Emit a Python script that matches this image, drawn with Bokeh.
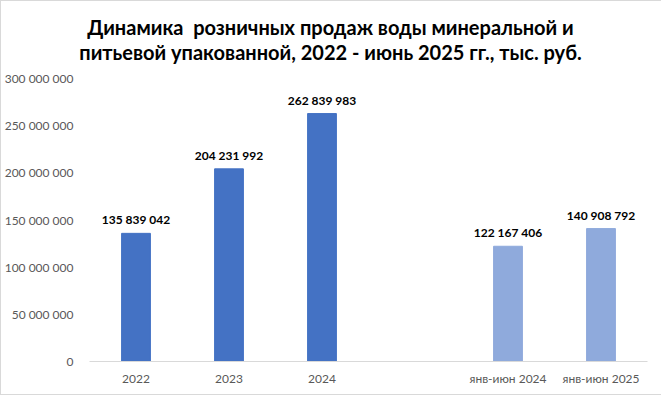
from bokeh.plotting import figure
from bokeh.models import ColumnDataSource, FactorRange, Range1d, CustomJSTickFormatter, Div
from bokeh.layouts import column
from bokeh.core.properties import value
from bokeh.embed import file_html
from bokeh.resources import INLINE

categories = ["2022", "2023", "2024", " ", "янв-июн 2024", "янв-июн 2025"]
values = [135839042, 204231992, 262839983, 0, 122167406, 140908792]
value_labels = ["135 839 042", "204 231 992", "262 839 983", "", "122 167 406", "140 908 792"]
bar_colors = ["#4472C4", "#4472C4", "#4472C4", "#FFFFFF", "#8FAADC", "#8FAADC"]
title_lines = ["Динамика&nbsp; розничных продаж воды минеральной и",
               "питьевой упакованной, 2022 - июнь 2025 гг., тыс. руб."]

plot_cats = [c for c, v in zip(categories, values) if v > 0]
plot_vals = [v for v in values if v > 0]
plot_labels = [l for l, v in zip(value_labels, values) if v > 0]
plot_colors = [c for c, v in zip(bar_colors, values) if v > 0]

src = ColumnDataSource(dict(x=plot_cats, top=plot_vals, lab=plot_labels, color=plot_colors))

FONT = "Lato"

title_html = ("<div style='padding-top:14px; text-align:center; font-family:Lato; "
              "font-weight:bold; font-size:20px; line-height:25px; color:#000000; width:659px'>"
              + "<br>".join(title_lines) + "</div>")
title = Div(text=title_html, width=659, height=67, margin=0)

p = figure(x_range=FactorRange(*categories), y_range=Range1d(0, 300000000),
           width=659, height=326, output_backend="svg", toolbar_location=None,
           min_border_left=87, min_border_right=14, min_border_top=10, min_border_bottom=33,
           frame_width=558, frame_height=283, margin=0)
p.outline_line_color = None
p.xgrid.grid_line_color = None
p.ygrid.grid_line_color = None
p.x_range.range_padding = 0
p.x_range.factor_padding = 0
p.title.visible = False

p.vbar(x="x", top="top", width=0.31, color="color", source=src)

p.text(x="x", y="top", text="lab", source=src, text_align="center",
       text_baseline="bottom", y_offset=-6, text_font=value(FONT),
       text_font_style="bold", text_font_size="12px", text_color="#000000")

p.yaxis.formatter = CustomJSTickFormatter(code="""
return Math.round(tick).toString().replace(/\\B(?=(\\d{3})+(?!\\d))/g, ' ');
""")
p.yaxis.ticker = [0, 50000000, 100000000, 150000000, 200000000, 250000000, 300000000]
p.yaxis.axis_line_color = None
p.yaxis.major_tick_line_color = None
p.yaxis.minor_tick_line_color = None
p.yaxis.major_label_text_font = FONT
p.yaxis.major_label_text_font_size = "12px"
p.yaxis.major_label_text_color = "#595959"
p.yaxis.major_label_standoff = 10

p.xaxis.axis_line_color = "#D9D9D9"
p.xaxis.major_tick_line_color = None
p.xaxis.minor_tick_line_color = None
p.xaxis.major_label_text_font = FONT
p.xaxis.major_label_text_font_size = "12px"
p.xaxis.major_label_text_color = "#595959"
p.xaxis.major_label_standoff = 3

layout = column(title, p, spacing=0,
                styles={"border": "1px solid #D9D9D9", "background-color": "#FFFFFF"})

open("out.html", "w").write(file_html(layout, INLINE))
